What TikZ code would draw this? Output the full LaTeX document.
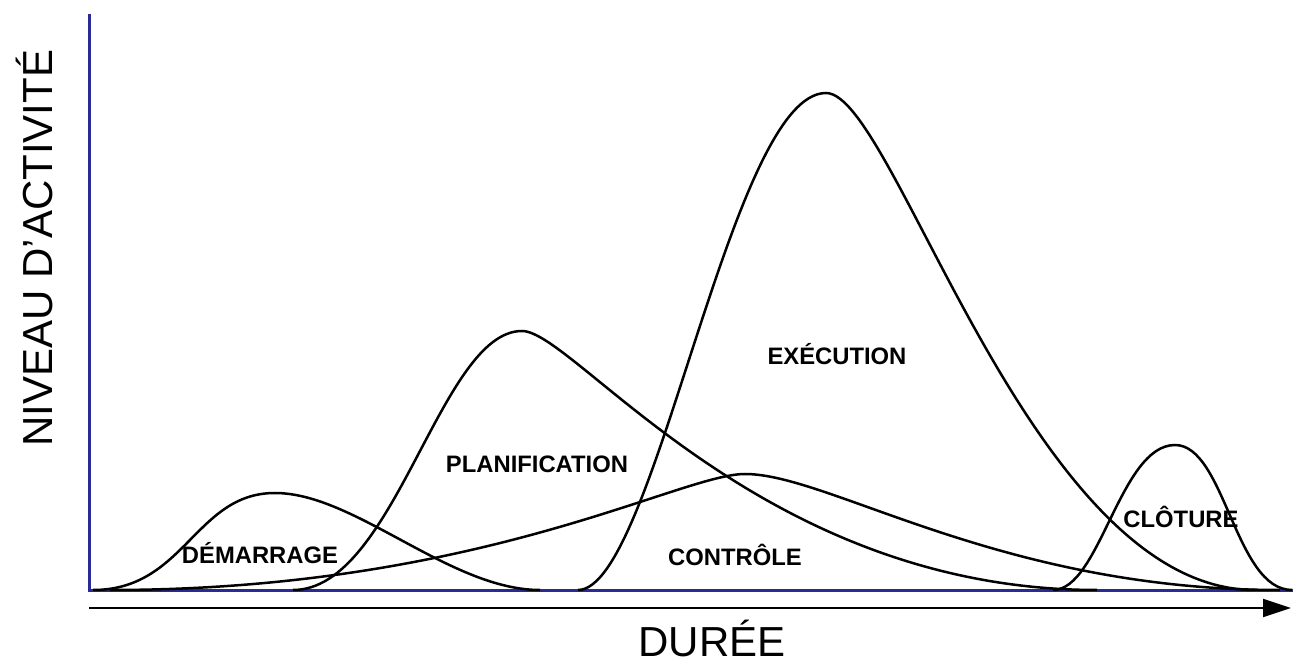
\documentclass[tikz,border=0pt]{standalone}
\usepackage{fontspec}
\setmainfont{Liberation Sans}
\usetikzlibrary{arrows.meta}
\definecolor{axisblue}{RGB}{42,42,150}
\begin{document}
\begin{tikzpicture}[x=0.5pt,y=-0.5pt,
  axis/.style={axisblue,line width=1.5pt},
  curve/.style={black,line width=1.25pt},
  phase/.style={font=\bfseries\fontsize{11.9}{12}\selectfont,inner sep=0pt,anchor=base},
  axislabel/.style={font=\fontsize{21}{22}\selectfont,inner sep=0pt,anchor=base}]
\useasboundingbox (0,0) rectangle (1296,662);

% axes
\coordinate (ytop) at (89,14);
\coordinate (O) at (89,590);
\coordinate (xend) at (1293,590);
\draw[axis] (ytop) -- (O) -- (xend);

% time arrow
\coordinate (t0) at (89,608);
\coordinate (t1) at (1291,608);
\draw[line width=1pt,-{Triangle[length=14pt,width=9pt]}] (t0) -- (t1);

% phase curves
\draw[curve] (93,590) .. controls (185,590) and (195,493) .. (275,493)
                      .. controls (355,493) and (450,590) .. (540,590);
\draw[curve] (293,590) .. controls (395,590) and (440,331) .. (522,331)
                       .. controls (575,331) and (760,590) .. (1097,590);
\draw[curve] (110,590) .. controls (480,590) and (680,474) .. (745,474)
                       .. controls (830,474) and (1000,590) .. (1280,590);
\draw[curve] (578,590) .. controls (655,590) and (730,93) .. (826,93)
                       .. controls (895,93) and (1030,590) .. (1255,590);
\draw[curve] (1053,590) .. controls (1100,590) and (1120,445) .. (1175,445)
                        .. controls (1225,445) and (1235,590) .. (1292,590);

% phase labels
\node[phase] (dem) at (260,563) {DÉMARRAGE};
\node[phase] (pla) at (537,473) {PLANIFICATION};
\node[phase] (exe) at (837,365) {EXÉCUTION};
\node[phase] (con) at (735,565) {CONTRÔLE};
\node[phase] (clo) at (1181,528) {CLÔTURE};

% axis labels
\node[axislabel,rotate=90] (ylab) at (53,248) {NIVEAU D'ACTIVITÉ};
\node[axislabel] (xlab) at (712,656) {DURÉE};
\end{tikzpicture}
\end{document}
